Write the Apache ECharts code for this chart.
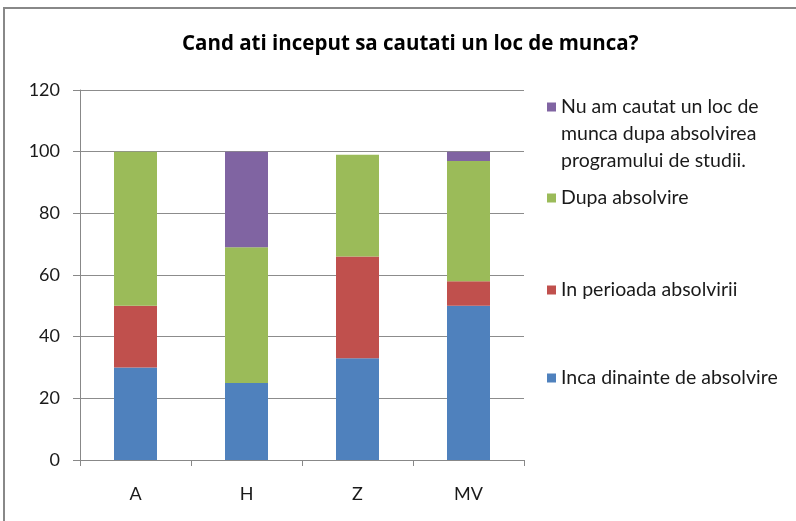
<!DOCTYPE html>
<html>
<head>
<meta charset="utf-8">
<script src="https://cdn.jsdelivr.net/npm/echarts@6/dist/echarts.min.js"></script>
<style>
html,body{margin:0;padding:0;background:#fff;}
#c{width:796px;height:521px;}
</style>
</head>
<body>
<div id="c"></div>
<script>
var categories = ['A', 'H', 'Z', 'MV'];
var seriesNames = ['Inca dinainte de absolvire', 'In perioada absolvirii', 'Dupa absolvire', 'Nu am cautat un loc de munca dupa absolvirea programului de studii.'];
var incaDinainte = [30, 25, 33, 50];
var inPerioada = [20, 0, 33, 8];
var dupaAbsolvire = [50, 44, 33, 39];
var nuAmCautat = [0, 31, 0, 3];
var yTicks = [0, 20, 40, 60, 80, 100, 120];
var colors = ['#4F81BD', '#C0504D', '#9BBB59', '#8064A2'];
var seriesData = [incaDinainte, inPerioada, dupaAbsolvire, nuAmCautat];

var FONT = 'Lato';
var chart = echarts.init(document.getElementById('c'));

function mkLegend(idx, top, opts) {
  var base = {
    data: [seriesNames[idx]],
    orient: 'vertical',
    left: 547,
    top: top,
    padding: 0,
    icon: 'rect',
    itemWidth: 9,
    itemHeight: 9,
    itemGap: 0,
    selectedMode: false,
    textStyle: { fontFamily: FONT, fontSize: 19.5, color: '#1a1a1a', lineHeight: 20 }
  };
  if (opts) {
    for (var k in opts) base[k] = opts[k];
  }
  return base;
}

var option = {
  backgroundColor: '#fff',
  animation: false,
  title: {
    text: 'Cand ati inceput sa cautati un loc de munca?',
    left: 182,
    top: 34,
    padding: 0,
    textStyle: { fontFamily: 'Open Sans', fontSize: 20.5, fontWeight: 'bold', color: '#000' }
  },
  graphic: [{
    type: 'rect',
    shape: { x: 4, y: 8, width: 900, height: 700 },
    style: { fill: 'none', stroke: '#888', lineWidth: 2 },
    silent: true
  }],
  legend: [
    mkLegend(3, 39.5, {
      formatter: function () { return '\n\nNu am cautat un loc de\nmunca dupa absolvirea\nprogramului de studii.'; },
      textStyle: { fontFamily: FONT, fontSize: 19.5, color: '#1a1a1a', lineHeight: 27 }
    }),
    mkLegend(2, 188),
    mkLegend(1, 280),
    mkLegend(0, 368)
  ],
  grid: { left: 80, right: 272, top: 90, bottom: 61, containLabel: false },
  xAxis: {
    type: 'category',
    data: categories,
    boundaryGap: true,
    axisLine: { lineStyle: { color: '#888', width: 1 } },
    axisTick: { show: true, length: 6, alignWithLabel: false, lineStyle: { color: '#888' } },
    axisLabel: { fontFamily: FONT, fontSize: 18, color: '#1a1a1a', margin: 25 }
  },
  yAxis: {
    type: 'value',
    min: yTicks[0],
    max: yTicks[yTicks.length - 1],
    interval: yTicks[1] - yTicks[0],
    axisLine: { show: true, lineStyle: { color: '#888', width: 1 } },
    axisTick: { show: true, length: 7, lineStyle: { color: '#888' } },
    axisLabel: { fontFamily: FONT, fontSize: 18, color: '#1a1a1a', margin: 20 },
    splitLine: { show: true, lineStyle: { color: '#8c8c8c', width: 1 } }
  },
  series: seriesData.map(function (d, i) {
    return {
      name: seriesNames[i],
      type: 'bar',
      stack: 'total',
      barWidth: 43,
      data: d,
      itemStyle: { color: colors[i] }
    };
  })
};
chart.setOption(option);
</script>
</body>
</html>
